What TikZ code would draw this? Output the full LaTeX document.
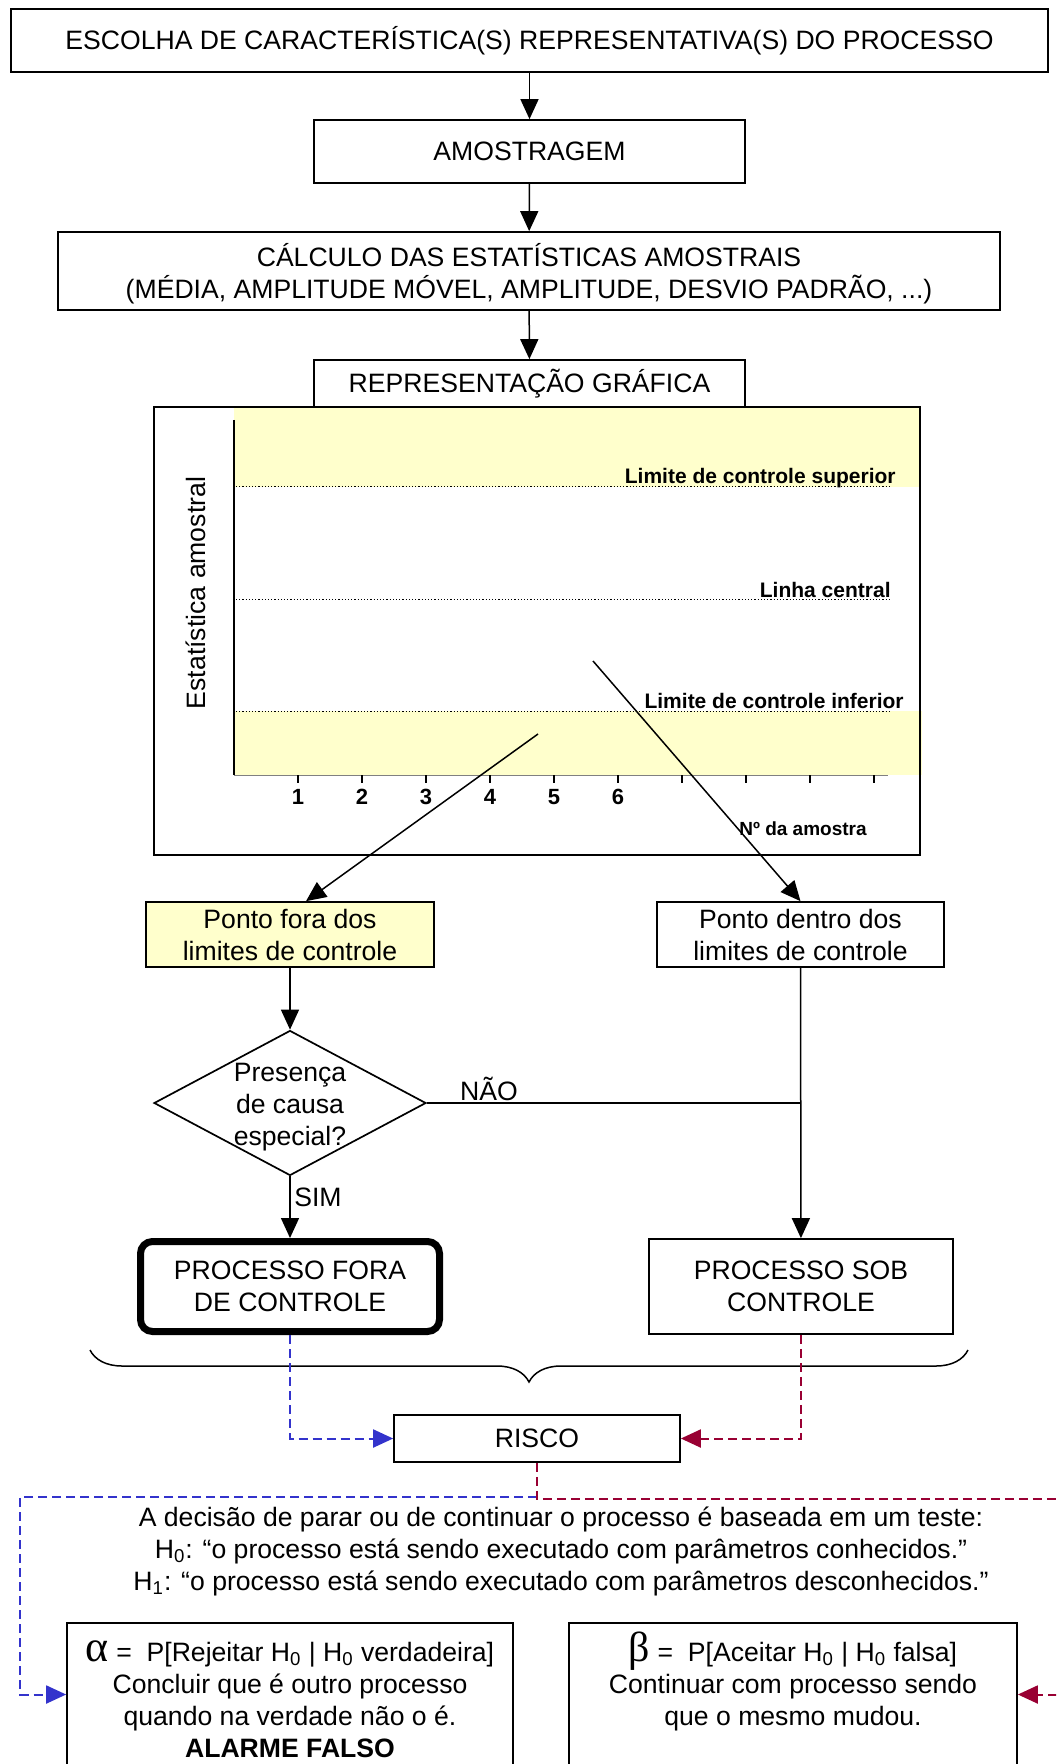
\documentclass[tikz,border=0pt]{standalone}
\usepackage{fontspec}
\setmainfont{Liberation Sans}
\newfontfamily\letragrega{Liberation Serif}
\usepackage{xcolor}
\usetikzlibrary{arrows.meta,shapes.geometric,decorations.pathreplacing}
\definecolor{amarelo}{HTML}{FFFFCC}
\definecolor{azul}{HTML}{3333CC}
\definecolor{vinho}{HTML}{990033}

\begin{document}
\begin{tikzpicture}[x=0.5pt,y=-0.5pt,>={Triangle[length=10pt,width=9pt]},
    etapa/.style={draw,line width=0.85pt,align=center,inner sep=0pt,font=\fontsize{13.3}{16}\selectfont},
    decisao/.style={diamond,draw,line width=0.85pt,inner sep=0pt,minimum width=136pt,minimum height=72.5pt},
    texto/.style={font=\fontsize{13.3}{16}\selectfont,align=center,inner sep=0pt},
    rotulo/.style={font=\bfseries\fontsize{10.5}{12}\selectfont,inner sep=0pt},
    fluxo/.style={line width=0.75pt},
    tracoazul/.style={draw=azul,line width=1pt,dash pattern=on 4.5pt off 2.5pt},
    tracovinho/.style={draw=vinho,line width=1pt,dash pattern=on 4.5pt off 2.5pt}]

    \useasboundingbox (0,0) rectangle (1056,1764);
    \clip (0,0) rectangle (1056,1764);

    % The steps
    \node [etapa,minimum width=518.5pt,minimum height=31.5pt] at (529.5,40.5) (escolha) {ESCOLHA DE CARACTERÍSTICA(S) REPRESENTATIVA(S) DO PROCESSO};
    \node [etapa,minimum width=215.5pt,minimum height=31.5pt] at (529.5,151.5) (amostra) {AMOSTRAGEM};
    \node [etapa,text depth=0pt,minimum width=471pt,minimum height=39pt] at (529,271) (calculo) {CÁLCULO DAS ESTATÍSTICAS AMOSTRAIS\\(MÉDIA, AMPLITUDE MÓVEL, AMPLITUDE, DESVIO PADRÃO, ...)};

    % The chart
    \fill[amarelo] (234,407) rectangle (920,487);
    \fill[amarelo] (234,711) rectangle (922,775);
    \draw[line width=0.85pt] (154,407) rectangle (920,855);
    \foreach \y in {487,599,711}
        \draw[line width=0.5pt,dash pattern=on 0.6pt off 1pt] (236,\y) -- (890,\y);
    \draw[line width=1pt] (234,420) -- (234,775);
    \draw[gray,line width=0.4pt] (234,775) -- (888,775);
    \foreach \k in {1,...,10}
        \draw[line width=0.9pt] (234+64*\k,775) -- ++(0,8);
    \foreach \k in {1,...,6}
        \node [rotulo,font=\bfseries\fontsize{11}{13}\selectfont] at (234+64*\k,797) (marca\k) {\k};
    \node [rotulo,anchor=base east] at (896,484) (lcs) {Limite de controle superior};
    \node [rotulo,anchor=base east] at (891,597) (lc) {Linha central};
    \node [rotulo,anchor=base east] at (904,708) (lci) {Limite de controle inferior};
    \node [rotulo,font=\bfseries\fontsize{9.5}{11}\selectfont] at (803,829) (namostra) {Nº da amostra};
    \node [texto,rotate=90] at (196,593) (eixoy) {Estatística amostral};
    \node [etapa,fill=white,minimum width=215.5pt,minimum height=23.5pt] at (529.5,383.5) (grafica) {REPRESENTAÇÃO GRÁFICA};
    \coordinate (pfora) at (538,734);
    \coordinate (pdentro) at (593,661);

    % The decision
    \node [etapa,fill=amarelo,minimum width=144pt,minimum height=32.5pt] at (290,934.5) (fora) {Ponto fora dos\\limites de controle};
    \node [etapa,minimum width=143.5pt,minimum height=32.5pt] at (800.5,934.5) (dentro) {Ponto dentro dos\\limites de controle};
    \node [decisao,label={[texto,yshift=-2pt]center:Presença\\de causa\\especial?}] at (290,1103) (causa) {};
    \node [etapa,line width=3.5pt,rounded corners=6pt,minimum width=149.5pt,minimum height=45pt] at (290,1286.5) (processofora) {PROCESSO FORA\\DE CONTROLE};
    \node [etapa,minimum width=152pt,minimum height=47.5pt] at (801,1286.5) (sob) {PROCESSO SOB\\CONTROLE};
    \node [texto] at (489,1089) (nao) {NÃO};
    \node [texto] at (318,1197) (sim) {SIM};

    % Edges
    \path[->,fluxo]
    (escolha) edge (amostra)
    (amostra) edge (calculo)
    (calculo) edge (grafica)
    (pfora) edge ([xshift=8pt]fora.north)
    (pdentro) edge (dentro.north)
    (fora) edge (causa)
    (causa) edge (processofora)
    (dentro) edge (sob)
    ;
    \draw[fluxo] (causa.east) -- (causa.east -| dentro.south);

    % Risk
    \coordinate (chaveE) at (90,1350);
    \coordinate (chaveD) at (968,1350);
    \draw[fluxo,decorate,decoration={brace,mirror,amplitude=16pt}] (chaveE) -- (chaveD);
    \node [etapa,minimum width=143pt,minimum height=23.5pt] at (537,1438.5) (risco) {RISCO};
    \node [texto] at (561,1551) (teste) {A decisão de parar ou de continuar o processo é baseada em um teste:\\
        H\textsubscript{0}: “o processo está sendo executado com parâmetros conhecidos.”\\
        H\textsubscript{1}: “o processo está sendo executado com parâmetros desconhecidos.”};
    \node [etapa,minimum width=223pt,minimum height=71.5pt] at (290,1694.5) (alfa) {\rule{0pt}{14.7pt}{\letragrega\fontsize{22}{16}\selectfont α} =\ \ P[Rejeitar H\textsubscript{0} | H\textsubscript{0} verdadeira]\\
        Concluir que é outro processo\\quando na verdade não o é.\\\textbf{ALARME FALSO}};
    \node [etapa,minimum width=224pt,minimum height=71.5pt] at (793,1694.5) (beta) {{\letragrega\fontsize{21}{16}\selectfont β} =\ \ P[Aceitar H\textsubscript{0} | H\textsubscript{0} falsa]\\
        Continuar com processo sendo\\que o mesmo mudou.\\\mbox{}};

    \coordinate (esq) at (20,1497);
    \coordinate (dir) at (1080,1499);
    \draw[tracoazul,->] (processofora.south) |- (risco.west);
    \draw[tracovinho,->] (sob.south) |- (risco.east);
    \draw[tracoazul,->] (risco.south |- esq) -- (esq) |- (alfa.west);
    \draw[tracovinho,->] (risco.south) |- (dir) |- (beta.east);

\end{tikzpicture}
\end{document}
